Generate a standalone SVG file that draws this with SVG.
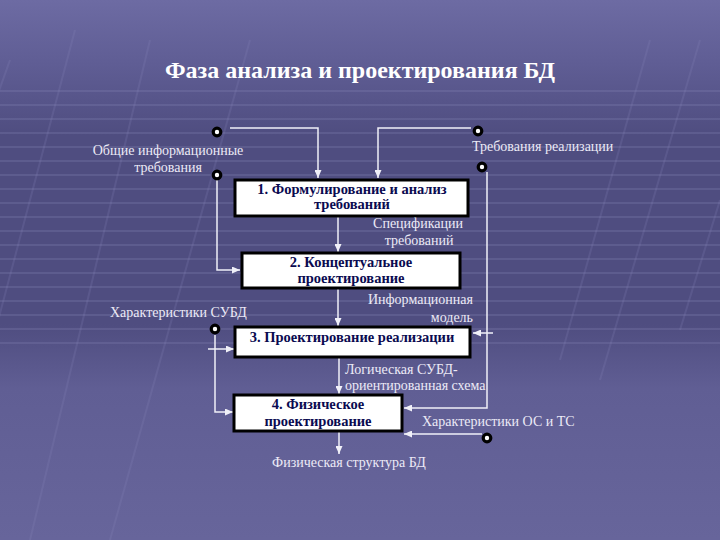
<svg xmlns="http://www.w3.org/2000/svg" width="720" height="540" viewBox="0 0 720 540">
<defs>
<linearGradient id="bg" x1="0" y1="0" x2="0" y2="1">
<stop offset="0" stop-color="#6d6ba3"/>
<stop offset="0.12" stop-color="#5f5d94"/>
<stop offset="0.25" stop-color="#4f4d80"/>
<stop offset="0.6" stop-color="#4f4d80"/>
<stop offset="0.72" stop-color="#605e94"/>
<stop offset="1" stop-color="#67659b"/>
</linearGradient>
<pattern id="stripes" width="720" height="14" patternUnits="userSpaceOnUse">
<rect x="0" y="6" width="720" height="2" fill="#8886b8" opacity="0.25"/>
</pattern>
<marker id="ah" markerWidth="8" markerHeight="7" refX="8" refY="3.5" orient="auto" markerUnits="userSpaceOnUse">
<path d="M0,0 L8,3.5 L0,7 z" fill="#f0f0f8"/>
</marker>
<style>
.lbl{font-family:"Liberation Serif","DejaVu Serif",serif;font-size:14px;fill:#eceaf6}
.bt{font-family:"Liberation Serif","DejaVu Serif",serif;font-size:14.5px;font-weight:bold;fill:#0a0a50;text-anchor:middle}
.box{fill:#ffffff;stroke:#000000;stroke-width:3}
.dot{fill:#ffffff;stroke:#000000;stroke-width:3.2}
.cn{fill:none;stroke:#f0f0f8;stroke-width:1.5}
</style>
</defs>
<rect width="720" height="540" fill="url(#bg)"/>
<rect x="0" y="90" width="720" height="260" fill="url(#stripes)"/>
<g stroke="#8a88bc" stroke-width="2" opacity="0.2" fill="none">
<path d="M10,60 L-40,200"/>
<path d="M75,30 L-60,540"/>
<path d="M150,40 L30,540"/>
<path d="M250,40 L110,540"/>
<path d="M650,40 L560,360"/>
<path d="M700,40 L600,380"/>
<path d="M720,200 L680,330"/>
</g>
<text x="360" y="78" text-anchor="middle" style="font-family:'Liberation Serif','DejaVu Serif',serif;font-size:24px;font-weight:bold;fill:#ffffff">Фаза анализа и проектирования БД</text>
<g id="connectors">
<path class="cn" d="M230,128 H318 V178" marker-end="url(#ah)"/>
<path class="cn" d="M471,128 H378 V178" marker-end="url(#ah)"/>
<path class="cn" d="M217,180 V270 H240" marker-end="url(#ah)"/>
<path class="cn" d="M487,172 V408 H404" marker-end="url(#ah)"/>
<path class="cn" d="M493,333 H473" marker-end="url(#ah)"/>
<path class="cn" d="M482,434 H404" marker-end="url(#ah)"/>
<path class="cn" d="M338,217 V252" marker-end="url(#ah)"/>
<path class="cn" d="M338,289 V326" marker-end="url(#ah)"/>
<path class="cn" d="M339,358 V394" marker-end="url(#ah)"/>
<path class="cn" d="M339,432 V454" marker-end="url(#ah)"/>
<path class="cn" d="M215,335 V412 H233" marker-end="url(#ah)"/>
<path class="cn" d="M208,349 H234" marker-end="url(#ah)"/>
</g>
<g id="dots">
<circle class="dot" cx="217" cy="132" r="3.8"/>
<circle class="dot" cx="217" cy="175" r="3.8"/>
<circle class="dot" cx="478" cy="131" r="3.8"/>
<circle class="dot" cx="482" cy="167" r="3.8"/>
<circle class="dot" cx="215" cy="329" r="3.8"/>
<circle class="dot" cx="487" cy="438" r="3.8"/>
</g>
<g id="n1">
<rect class="box" x="235" y="180" width="233" height="36"/>
<text class="bt" x="352" y="194">1. Формулирование и анализ</text>
<text class="bt" x="352" y="209">требований</text>
</g>
<g id="n2">
<rect class="box" x="242" y="253" width="218" height="35"/>
<text class="bt" x="351" y="267">2. Концептуальное</text>
<text class="bt" x="351" y="283">проектирование</text>
</g>
<g id="n3">
<rect class="box" x="235" y="327" width="235" height="30"/>
<text class="bt" x="352" y="342">3. Проектирование реализации</text>
</g>
<g id="n4">
<rect class="box" x="234" y="395" width="168" height="36"/>
<text class="bt" x="318" y="409">4. Физическое</text>
<text class="bt" x="318" y="426">проектирование</text>
</g>
<g id="labels">
<text class="lbl" x="168" y="155" text-anchor="middle">Общие информационные</text>
<text class="lbl" x="168" y="172" text-anchor="middle">требования</text>
<text class="lbl" x="472" y="151">Требования реализации</text>
<text class="lbl" x="418" y="228" text-anchor="middle">Спецификации</text>
<text class="lbl" x="419" y="245" text-anchor="middle">требований</text>
<text class="lbl" x="473" y="304" text-anchor="end">Информационная</text>
<text class="lbl" x="473" y="322" text-anchor="end">модель</text>
<text class="lbl" x="110" y="317">Характеристики СУБД</text>
<text class="lbl" x="345" y="374">Логическая СУБД-</text>
<text class="lbl" x="345" y="390">ориентированная схема</text>
<text class="lbl" x="422" y="426">Характеристики ОС и ТС</text>
<text class="lbl" x="349" y="467" text-anchor="middle">Физическая структура БД</text>
</g>
</svg>
